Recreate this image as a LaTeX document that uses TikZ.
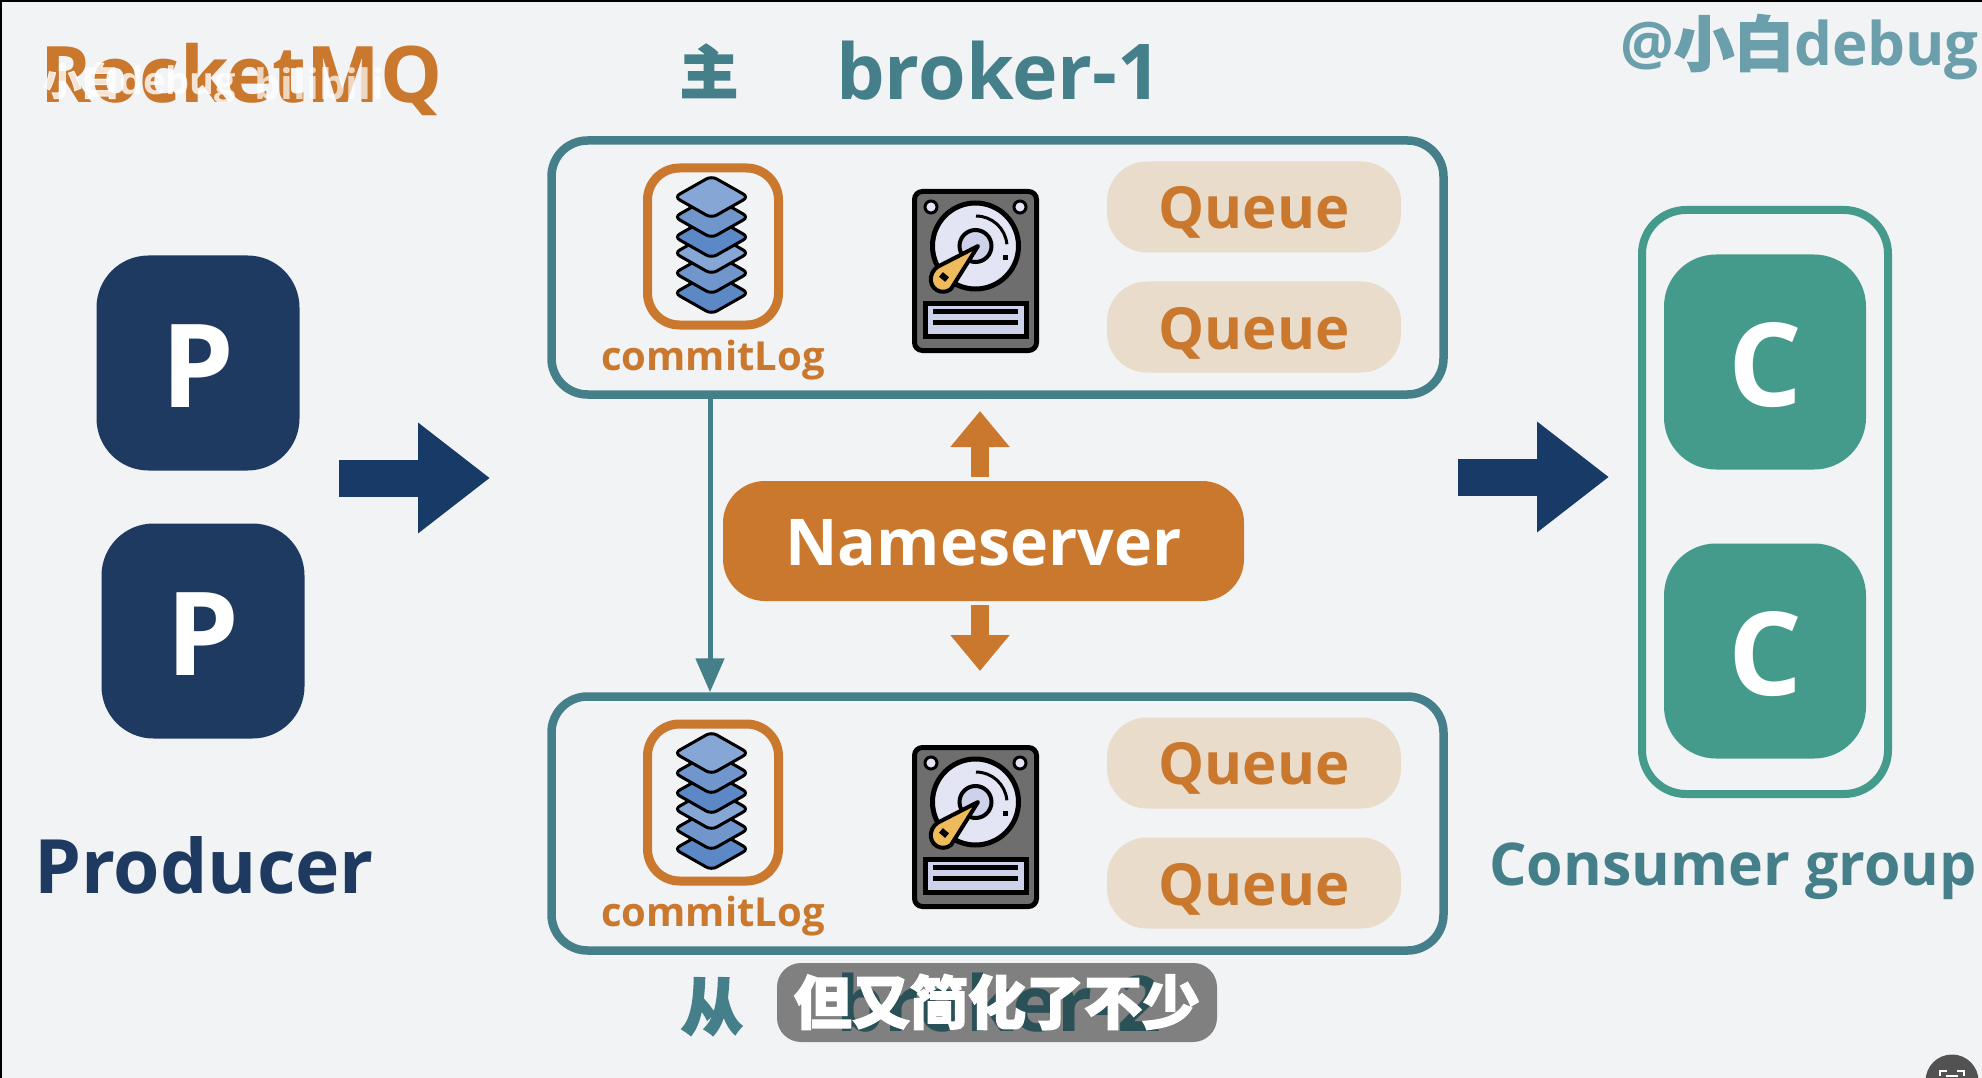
\documentclass[tikz,border=0pt]{standalone}
\usepackage{fontspec}
\setmainfont{Open Sans}
\newfontfamily\cjk{Noto Sans CJK SC Bold}[FakeBold=2.5]
\usetikzlibrary{arrows.meta}
\newcommand{\dropbox}[2]{\raisebox{-#1}[\height][\depth]{#2}}
\definecolor{bgc}{HTML}{F1F3F5}
\definecolor{orng}{HTML}{C9782E}
\definecolor{teal1}{HTML}{45808A}
\definecolor{teal2}{HTML}{459B8B}
\definecolor{navy}{HTML}{1F3A60}
\definecolor{navyarrow}{HTML}{173B66}
\definecolor{peach}{HTML}{E9DCCB}
\definecolor{wm}{HTML}{6A9FAB}
\definecolor{dgray}{HTML}{6E6E6E}
\definecolor{lilac}{HTML}{E3E5F4}
\definecolor{lilac2}{HTML}{CDD1EA}
\definecolor{gold}{HTML}{EDBB5C}
\definecolor{s1}{HTML}{86A7D6}
\definecolor{s2}{HTML}{7096CB}
\definecolor{s3}{HTML}{5C88C6}
\definecolor{pillc}{HTML}{808080}
\definecolor{hiddenc}{HTML}{2A5157}
\tikzset{
 x=1pt,y=-1pt,
 boxframe/.style={draw=teal1,line width=8.5pt,rounded corners=36pt,inner sep=0pt},
 groupframe/.style={draw=teal2,line width=8pt,rounded corners=44pt,inner sep=0pt},
 iconframe/.style={draw=orng,line width=9pt,rounded corners=32pt,inner sep=0pt,minimum width=131pt,minimum height=157pt},
 queuebox/.style={fill=peach,rounded corners=40pt,inner sep=0pt,minimum width=294pt,minimum height=91pt,text=orng,font=\fontsize{58}{58}\selectfont\bfseries},
 pbox/.style={fill=navy,rounded corners=52pt,inner sep=0pt,minimum width=203pt,minimum height=215pt,text=white,font=\fontsize{116}{116}\selectfont\bfseries},
 cbox/.style={fill=teal2,rounded corners=52pt,inner sep=0pt,minimum width=202pt,minimum height=215pt,text=white,font=\fontsize{116}{116}\selectfont\bfseries},
 nsbox/.style={fill=orng,rounded corners=42pt,inner sep=0pt,minimum width=521pt,minimum height=120pt,text=white,font=\fontsize{64.5}{65}\selectfont\bfseries},
 clabel/.style={text=orng,inner sep=0pt,font=\fontsize{40}{40}\selectfont\bfseries},
 bigarrow/.style={draw=navyarrow,line width=37pt,-{Triangle[length=72pt,width=106pt]}},
 nsarrow/.style={draw=orng,line width=18pt,-{Triangle[length=36pt,width=57pt]}},
 syncarrow/.style={draw=teal1,line width=5pt,-{Triangle[length=34pt,width=28pt]}},
 layer/.style={draw=black,line width=3pt,rounded corners=6pt},
 pics/stackicon/.style={code={
  \foreach \yy/\cc in {96/s3,76/s2,56/s1,40/s3,20/s2,0/s1}{
   \draw[layer,fill=\cc] (-37,\yy) -- (0,\yy-21) -- (37,\yy) -- (0,\yy+21) -- cycle;
  }
 }},
 pics/diskicon/.style={code={
  \draw[draw=black,fill=dgray,line width=5pt,rounded corners=8pt] (2.5,2.5) rectangle (124.5,161.5);
  \draw[black,fill=lilac,line width=3pt] (19,18) circle (6);
  \draw[black,fill=lilac,line width=3pt] (108,18) circle (6);
  \draw[black,fill=lilac,line width=5pt] (63.5,57) circle (43);
  \draw[black,line width=3pt] (64,27) arc (-90:-5:31 and 31);
  \fill[black] (91,66) rectangle (96,71);
  \draw[black,fill=lilac2,line width=4pt] (63.5,57) circle (16);
  \draw[black,fill=gold,line width=4pt,line join=round] (66,57) -- (39,100) .. controls (30,107) and (17,100) .. (19,88) .. controls (20,82) and (24,78) .. (29,76) -- cycle;
  \fill[black,rotate around={-40:(32,88)}] (28,85) rectangle (36,91);
  \draw[black,fill=lilac2,line width=5pt] (13,114) rectangle (114,147);
  \fill[black] (21,120) rectangle (106,125);
  \fill[black] (21,131) rectangle (106,136);
 }},
}
\begin{document}
\begin{tikzpicture}
\useasboundingbox (0,0) rectangle (1982,1078);
\fill[bgc] (0,0) rectangle (1982,1078);
\fill[black] (0,0) rectangle (1982,2);
\fill[black] (0,0) rectangle (1.5,1078);

% titles
\node[anchor=base west,inner sep=0pt,text=orng,font=\fontsize{78}{78}\selectfont\bfseries] (title) at (40,103) {RocketMQ};
\node[anchor=base west,inner sep=0pt,text=white,opacity=.8,font=\fontsize{38}{38}\selectfont\bfseries] (wmark) at (43,95) {{\cjk 小白}debug};
\node[anchor=base west,inner sep=0pt,text=white,opacity=.7,font=\fontsize{42}{42}\selectfont\bfseries] (wmark2) at (254,100) {bilibili};
\node[anchor=base east,inner sep=0pt,text=wm,font=\fontsize{60}{60}\selectfont\bfseries] (author) at (1979,66) {@{\cjk 小白}debug};
\node[anchor=base,inner sep=0pt,text=teal1,font=\fontsize{58}{58}\selectfont\bfseries] (zhu) at (709,94) {\cjk 主};
\node[anchor=base west,inner sep=0pt,text=teal1,font=\fontsize{77}{77}\selectfont\bfseries] (b1name) at (836,100) {broker-1};
\node[anchor=base,inner sep=0pt,text=teal1,font=\fontsize{62}{62}\selectfont\bfseries] (cong) at (712,1030) {\cjk 从};

% broker frames
\node[boxframe,minimum width=892pt,minimum height=254pt] (b1) at (997.5,267.5) {};
\node[boxframe,minimum width=892pt,minimum height=254pt] (b2) at (997.5,823.5) {};

% producer
\node[pbox] (p1) at (198,363) {\dropbox{3pt}{P}};
\node[pbox] (p2) at (203,631) {\dropbox{3pt}{P}};
\node[anchor=base west,inner sep=0pt,text=navy,font=\fontsize{75}{75}\selectfont\bfseries] (prod) at (34,893) {Producer};

% consumer
\node[groupframe,minimum width=246pt,minimum height=584pt] (cg) at (1765,502) {};
\node[cbox] (c1) at (1765,362) {\dropbox{3pt}{C}};
\node[cbox] (c2) at (1765,651) {\dropbox{3pt}{C}};
\node[anchor=base,inner sep=0pt,text=teal1,font=\fontsize{59}{59}\selectfont\bfseries] (cons) at (1733,885) {Consumer group};

% broker content
\node[iconframe] (f1) at (713,246.5) {};
\pic at (711.5,197) {stackicon};
\node[clabel] (l1) at (713,360) {commitLog};
\pic at (912,189) {diskicon};
\node[queuebox] (q1) at (1254,207) {\dropbox{5pt}{Queue}};
\node[queuebox] (q2) at (1254,327) {\dropbox{6pt}{Queue}};

\node[iconframe] (f2) at (713,802.5) {};
\pic at (711.5,753) {stackicon};
\node[clabel] (l2) at (713,916) {commitLog};
\pic at (912,745) {diskicon};
\node[queuebox] (q3) at (1254,763) {\dropbox{5pt}{Queue}};
\node[queuebox] (q4) at (1254,883) {\dropbox{6pt}{Queue}};

% nameserver
\node[nsbox] (ns) at (983.5,541) {\dropbox{2pt}{Nameserver}};
\coordinate (up) at (980,411);
\coordinate (dn) at (980,671);
\draw[nsarrow] (up |- ns.north) ++(0,-4) -- (up);
\draw[nsarrow] (dn |- ns.south) ++(0,4) -- (dn);

% replication connector
\coordinate (sy) at (710,0);
\draw[syncarrow] (sy |- b1.south) -- (sy |- b2.north);

% flow arrows
\coordinate (pa) at (339,478);
\coordinate (pb) at (490,478);
\coordinate (ca) at (1458,477);
\coordinate (cb) at (1609,477);
\draw[bigarrow] (pa) -- (pb);
\draw[bigarrow] (ca) -- (cb);

% caption
\node[fill=pillc,rounded corners=24pt,minimum width=440pt,minimum height=79pt,inner sep=0pt] (cap) at (997,1002.5) {};
\node[anchor=base west,inner sep=0pt,text=hiddenc,font=\fontsize{77}{77}\selectfont\bfseries] (b2name) at (836,1031) {broker-2};
\node[text=white,inner sep=0pt,font=\fontsize{58}{58}\selectfont\bfseries] (captxt) at (997,1002) {\cjk 但又简化了不少};

% corner button
\begin{scope}
\clip (1900,1040) rectangle (1982,1078);
\fill[black!68] (1952,1081) circle (26.5);
\draw[white,line width=1.5pt] (1940,1076) -- (1940,1071) -- (1947,1071) (1957,1071) -- (1964,1071) -- (1964,1076);
\draw[white,line width=1.5pt] (1946,1076) -- (1958,1076);
\end{scope}
\end{tikzpicture}
\end{document}
